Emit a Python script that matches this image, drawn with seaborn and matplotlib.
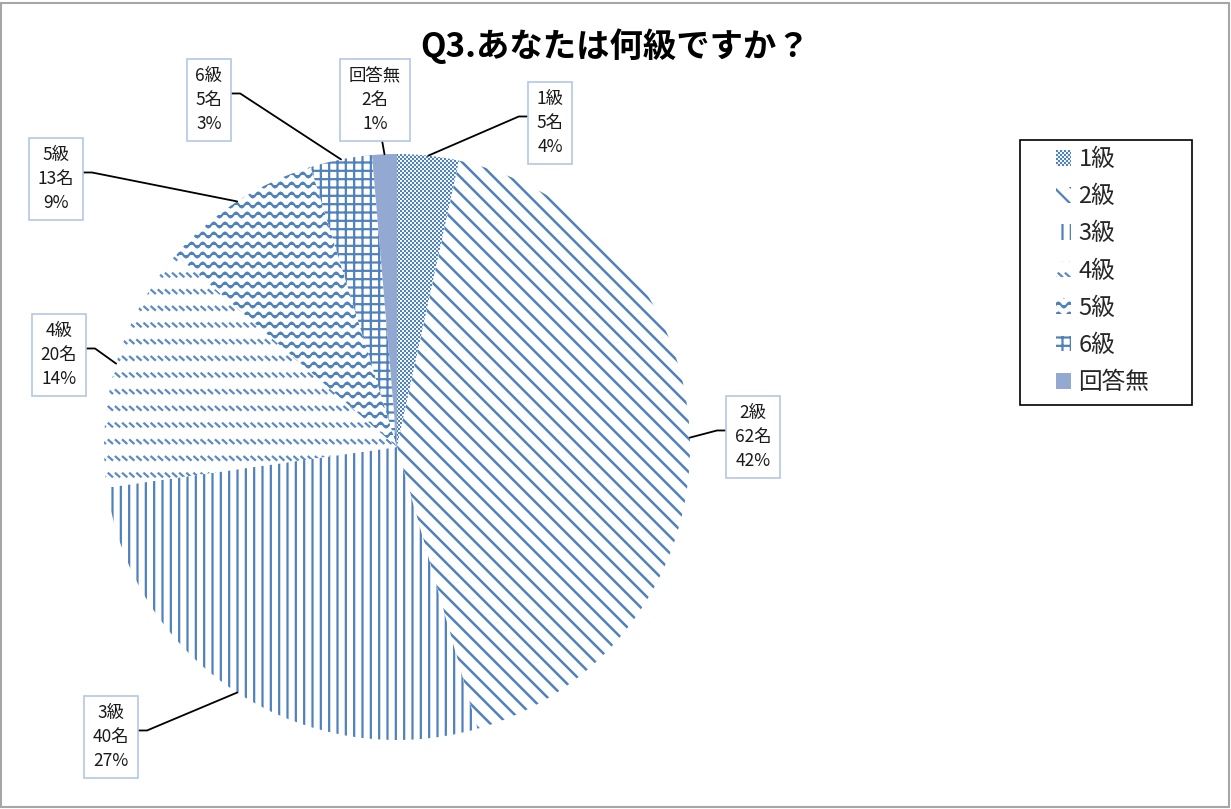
import warnings
warnings.filterwarnings("ignore")
import numpy as np
import matplotlib
matplotlib.use("Agg")
import matplotlib.pyplot as plt
import seaborn as sns
from matplotlib import hatch as mhatch
from matplotlib.path import Path
from matplotlib.patches import Rectangle

# ---------------- data ----------------
categories = ["1級", "2級", "3級", "4級", "5級", "6級", "回答無"]
counts = [5, 62, 40, 20, 13, 5, 2]
pct_labels = ["4%", "42%", "27%", "14%", "9%", "3%", "1%"]
title = "Q3.あなたは何級ですか？"

# ---------------- custom hatches ----------------
class WaveHatch(mhatch.HatchPatternBase):
    """'z' : rows of small sine waves"""
    def __init__(self, hatch, density):
        self.rows = hatch.count('z') * 10
        self.periods = 9
        self.pts = self.periods * 8 + 1
        self.num_vertices = self.rows * self.pts

    def set_vertices_and_codes(self, vertices, codes):
        xs = np.linspace(0, 1, self.pts)
        ys = 0.024 * np.sin(2 * np.pi * self.periods * xs)
        for r in range(self.rows):
            y0 = (r + 0.5) / self.rows
            sl = slice(r * self.pts, (r + 1) * self.pts)
            vertices[sl, 0] = xs
            vertices[sl, 1] = y0 + ys
            codes[sl] = Path.LINETO
            codes[r * self.pts] = Path.MOVETO


class DashRowHatch(mhatch.HatchPatternBase):
    """'d' : rows of short diagonal dashes"""
    def __init__(self, hatch, density):
        self.rows = hatch.count('d') * 6
        self.per_row = 14
        self.num_vertices = self.rows * self.per_row * 2

    def set_vertices_and_codes(self, vertices, codes):
        k = 0
        for r in range(self.rows):
            y0 = (r + 0.5) / self.rows
            for c in range(self.per_row):
                x0 = (c + 0.2) / self.per_row
                vertices[k] = (x0, y0 + 0.016)
                vertices[k + 1] = (x0 + 0.036, y0 - 0.016)
                codes[k] = Path.MOVETO
                codes[k + 1] = Path.LINETO
                k += 2


class CheckerHatch(mhatch.HatchPatternBase):
    """'c' : fine checkerboard of small filled squares"""
    def __init__(self, hatch, density):
        self.n = hatch.count('c') * 50
        cells = [(i, j) for i in range(self.n) for j in range(self.n) if (i + j) % 2 == 0]
        self.cells = cells
        self.num_vertices = len(cells) * 5 if self.n else 0

    def set_vertices_and_codes(self, vertices, codes):
        s = 1.0 / self.n
        k = 0
        for i, j in self.cells:
            x0, y0 = i * s, j * s
            vertices[k:k + 5] = [(x0, y0), (x0 + s, y0), (x0 + s, y0 + s),
                                 (x0, y0 + s), (x0, y0)]
            codes[k] = Path.MOVETO
            codes[k + 1:k + 4] = Path.LINETO
            codes[k + 4] = Path.CLOSEPOLY
            k += 5


mhatch._hatch_types.append(WaveHatch)
mhatch._hatch_types.append(DashRowHatch)
mhatch._hatch_types.append(CheckerHatch)

# ---------------- style ----------------
sns.set_theme(style="white")
plt.rcParams['font.family'] = ['Noto Sans CJK JP', 'DejaVu Sans']
plt.rcParams['hatch.linewidth'] = 1.6

W, H, DPI = 1231, 809, 100
fig = plt.figure(figsize=(W / DPI, H / DPI), dpi=DPI)
fig.patch.set_facecolor('white')

# pie axes (centre ~ (397,447) px from top-left, radius ~293 px)
cx, cy, R = 397, 447, 293
ax = fig.add_axes([(cx - R) / W, (H - cy - R) / H, 2 * R / W, 2 * R / H])

blue = '#4f81bd'
has_hlw = hasattr(matplotlib.patches.Patch, 'set_hatch_linewidth')
hatches = ['c' if has_hlw else '', '\\\\', '||', 'd', 'z', '++', '']
faces = ['white' if has_hlw else '#a9c0df', 'white', 'white', 'white',
         'white', 'white', '#93a9d2']
edges = [blue, blue, blue, '#5b8ac6', blue, blue, '#93a9d2']

wedges, _ = ax.pie(counts, startangle=90, counterclock=False, radius=1,
                   wedgeprops=dict(linewidth=0))
for w, h, fc, ec in zip(wedges, hatches, faces, edges):
    w.set_facecolor(fc)
    w.set_edgecolor(ec)
    w.set_hatch(h)
    w.set_linewidth(0)
if has_hlw:
    wedges[0].set_hatch_linewidth(0.05)
    wedges[1].set_hatch_linewidth(1.8)
ax.set_xlim(-1, 1)
ax.set_ylim(-1, 1)
ax.set_aspect('equal', adjustable='box')
ax.axis('off')

# ---------------- data labels ----------------
label_pos = [(550, 123), (753, 437), (111, 737), (59, 355),
             (56, 179), (209, 100), (375, 100)]
anns = []
for w, cat, n, p, (lx, ly) in zip(wedges, categories, counts, pct_labels, label_pos):
    mid = np.radians((w.theta1 + w.theta2) / 2)
    tx = cx + R * np.cos(mid)
    vertical = abs(tx - lx) < 15
    txt = f"{cat}\n{n}名\n{p}"
    a = ax.annotate(txt, xy=(np.cos(mid), np.sin(mid)), xycoords='data',
                    xytext=(lx, H - ly), textcoords='figure pixels',
                    ha='center', va='center', fontsize=12.5, linespacing=1.4,
                    color='#1a1a1a',
                    bbox=dict(boxstyle='square,pad=0.5', fc='white',
                              ec='#b4c7e7', lw=1.2),
                    arrowprops=dict(arrowstyle='-', color='black', lw=1.3,
                                    shrinkA=0, shrinkB=0,
                                    relpos=(0.5, 0.5) if vertical else (0.5, 0.6),
                                    connectionstyle='arc3,rad=0'),
                    annotation_clip=False, zorder=5)
    anns.append((a, lx, tx, vertical))

fig.canvas.draw()
for a, lx, tx, vertical in anns:
    bb = a.get_bbox_patch().get_window_extent()
    if vertical:
        rx = (tx - bb.x0) / bb.width
        a.arrow_patch  # keep straight, start right above the target
        a.arrowprops['relpos'] = (float(np.clip(rx, 0, 1)), 0.5)
        continue
    arm = bb.width / 2 + 9
    angA = 0 if lx < tx else 180
    a.arrow_patch.set_connectionstyle(f'arc,angleA={angA},armA={arm},angleB=0,armB=0,rad=0')

# ---------------- title ----------------
fig.text(615 / W, 1 - 46 / H, title, ha='center', va='center',
         fontsize=24, fontweight='bold', color='black')

# ---------------- legend ----------------
fig.patches.append(Rectangle((1020 / W, 1 - 405 / H), 172 / W, 265 / H,
                             transform=fig.transFigure, fill=False,
                             edgecolor='black', lw=1.2))
leg = fig.legend(wedges, categories, loc='upper left',
                 bbox_to_anchor=(1056 / W, 1 - 148 / H), frameon=False,
                 fontsize=17, handlelength=0.65, handleheight=0.65,
                 handletextpad=0.3, labelspacing=0.6, borderaxespad=0, borderpad=0)
if has_hlw:
    handles = getattr(leg, 'legend_handles', None) or leg.legendHandles
    handles[0].set_hatch_linewidth(0.05)

# ---------------- outer border ----------------
fig.patches.append(Rectangle((0.001, 0.002), 0.997, 0.994,
                             transform=fig.transFigure, fill=False,
                             edgecolor='#a6a6a6', lw=1.5))

fig.savefig('out.png', dpi=DPI)
